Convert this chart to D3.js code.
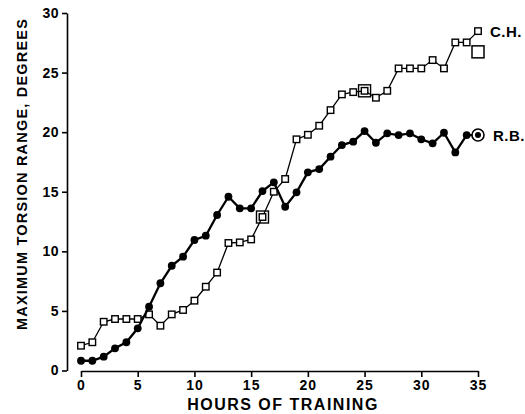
<!DOCTYPE html>
<html>
<head>
<meta charset="utf-8">
<script src="https://cdn.jsdelivr.net/npm/d3@7"></script>
<style>
  html, body { margin: 0; padding: 0; background: #fff; }
  svg { display: block; }
  text { font-family: "Liberation Sans", Arial, Helvetica, sans-serif; font-weight: bold; fill: #000; }
</style>
</head>
<body>
<svg id="chart" width="525" height="414"></svg>
<script>
// ---- data ----
const hours = d3.range(0, 36);
const chValues = [2.08, 2.37, 4.09, 4.32, 4.32, 4.32, 4.71, 3.76, 4.71, 5.08,
                  5.86, 7.03, 8.22, 10.7, 10.75, 11.0, 12.88, 15.0, 16.07, 19.4,
                  19.78, 20.54, 21.85, 23.17, 23.36, 23.47, 22.89, 23.47, 25.35, 25.35,
                  25.35, 26.05, 25.35, 27.53, 27.53, 28.48];
const rbValues = [0.82, 0.82, 1.16, 1.86, 2.37, 3.54, 5.35, 7.32, 8.79, 9.55,
                  10.95, 11.31, 13.05, 14.58, 13.61, 13.61, 15.06, 15.79, 13.74, 14.95,
                  16.63, 16.9, 17.94, 18.92, 19.2, 20.09, 19.11, 19.9, 19.76, 19.9,
                  19.4, 19.06, 19.95, 18.3, 19.76, 19.76];
const chSpecialHours = [16, 25];
const chExtra = { hour: 35, value: 26.74 };
const seriesLabels = ["C.H.", "R.B."];
const xTicks = [0, 5, 10, 15, 20, 25, 30, 35];
const yTicks = [0, 5, 10, 15, 20, 25, 30];
const xTitle = "HOURS OF TRAINING";
const yTitle = "MAXIMUM TORSION RANGE, DEGREES";

// ---- chart ----
const svg = d3.select("#chart");
const x = d3.scaleLinear().domain([0, 35]).range([81, 478]);
const y = d3.scaleLinear().domain([0, 30]).range([370.5, 13]);
const axisX0 = 67;     // y axis position
const axisY0 = 371;    // x axis position

// y axis
const gy = svg.append("g").attr("transform", `translate(${axisX0},0)`)
  .call(d3.axisLeft(y).tickValues(yTicks).tickSize(5).tickSizeOuter(0).tickPadding(3));
gy.select(".domain").attr("stroke-width", 1.6);
gy.selectAll(".tick line").attr("stroke-width", 1.6);
gy.selectAll(".tick text").style("font-size", "14px").attr("font-family", null).attr("letter-spacing", "0.5px");

// x axis
const gx = svg.append("g").attr("transform", `translate(0,${axisY0})`)
  .call(d3.axisBottom(x).tickValues(xTicks).tickSize(6).tickSizeOuter(0).tickPadding(3));
gx.select(".domain").attr("stroke-width", 1.6);
gx.selectAll(".tick line").attr("stroke-width", 1.6);
gx.selectAll(".tick text").style("font-size", "14px").attr("font-family", null).attr("letter-spacing", "1px");

// titles
svg.append("text").attr("x", 283).attr("y", 410).attr("text-anchor", "middle")
  .style("font-size", "16px").attr("letter-spacing", "1.5px").text(xTitle);
svg.append("text").attr("transform", "translate(27,174) rotate(-90)").attr("text-anchor", "middle")
  .style("font-size", "14.5px").attr("letter-spacing", "1.2px").text(yTitle);

const line = d3.line().x((d, i) => x(hours[i])).y(d => y(d));

// C.H. line and squares
svg.append("path").datum(chValues).attr("d", line)
  .attr("fill", "none").attr("stroke", "#000").attr("stroke-width", 1.3);
const sq = 6.5;
svg.selectAll(".ch").data(chValues).enter().append("rect")
  .attr("x", (d, i) => x(hours[i]) - sq / 2).attr("y", d => y(d) - sq / 2)
  .attr("width", sq).attr("height", sq)
  .attr("fill", "#fff").attr("stroke", "#000").attr("stroke-width", 1.4);
const big = 12;
svg.selectAll(".chs").data(chSpecialHours).enter().append("rect")
  .attr("x", h => x(h) - big / 2).attr("y", h => y(chValues[h]) - big / 2)
  .attr("width", big).attr("height", big)
  .attr("fill", "none").attr("stroke", "#000").attr("stroke-width", 1.4);
svg.append("rect").attr("x", x(chExtra.hour) - big / 2).attr("y", y(chExtra.value) - big / 2)
  .attr("width", big).attr("height", big)
  .attr("fill", "#fff").attr("stroke", "#000").attr("stroke-width", 1.5);

// R.B. line and dots
svg.append("path").datum(rbValues).attr("d", line)
  .attr("fill", "none").attr("stroke", "#000").attr("stroke-width", 2.3);
svg.selectAll(".rb").data(rbValues.slice(0, rbValues.length - 1)).enter().append("circle")
  .attr("cx", (d, i) => x(hours[i])).attr("cy", d => y(d)).attr("r", 3.9).attr("fill", "#000");
const lastI = rbValues.length - 1;
svg.append("circle").attr("cx", x(hours[lastI])).attr("cy", y(rbValues[lastI])).attr("r", 6)
  .attr("fill", "#fff").attr("stroke", "#000").attr("stroke-width", 1.6);
svg.append("circle").attr("cx", x(hours[lastI])).attr("cy", y(rbValues[lastI])).attr("r", 3)
  .attr("fill", "#000");

// series labels
svg.append("text").attr("x", x(35) + 12).attr("y", y(chValues[35]) + 5.5)
  .style("font-size", "15px").attr("letter-spacing", "0.5px").text(seriesLabels[0]);
svg.append("text").attr("x", x(35) + 15).attr("y", y(rbValues[35]) + 5.5)
  .style("font-size", "15px").attr("letter-spacing", "0.5px").text(seriesLabels[1]);
</script>
</body>
</html>
